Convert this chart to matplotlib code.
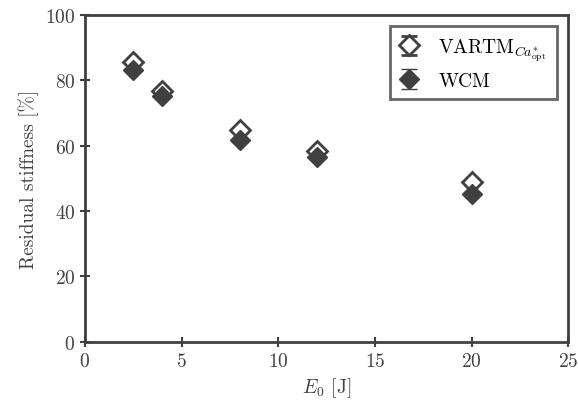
import matplotlib
matplotlib.use("Agg")
import matplotlib.pyplot as plt
import numpy as np

plt.rcParams['font.family'] = 'serif'
plt.rcParams['font.serif'] = ['cmr10']
plt.rcParams['mathtext.fontset'] = 'cm'
plt.rcParams['axes.formatter.use_mathtext'] = True

# impact energies and residual stiffness
energy = [2.5, 4, 8, 12, 20]
vartm = [85.4, 76.6, 64.8, 58.2, 48.9]
vartm_err = [0.6, 0.6, 0.6, 0.6, 0.6]
wcm = [83.2, 75.2, 61.8, 56.4, 45.2]
wcm_err = [0.6, 0.6, 0.6, 0.6, 0.6]

col = "#404040"

fig = plt.figure(figsize=(5.78, 4.14), dpi=100)
ax = fig.add_axes([0.147, 0.172, 0.836, 0.79])

ax.errorbar(energy, vartm, yerr=vartm_err, fmt="D", ms=10, mfc="white", mec=col,
            mew=2, color=col, ecolor=col, capsize=6, elinewidth=1.5, capthick=1.5,
            label=r"VARTM$_{Ca^{*}_{\rm opt}}$")
ax.errorbar(energy, wcm, yerr=wcm_err, fmt="D", ms=10, mfc=col, mec=col,
            mew=1, color=col, ecolor=col, capsize=6, elinewidth=1.5, capthick=1.5,
            label="WCM")

ax.set_xlim(0, 25)
ax.set_ylim(0, 100)
ax.set_xticks([0, 5, 10, 15, 20, 25])
ax.set_yticks([0, 20, 40, 60, 80, 100])
ax.set_xlabel(r"$E_0$ [J]", fontsize=14, color=col)
ax.set_ylabel("Residual stiffness [%]", fontsize=14, color=col)
ax.tick_params(direction="inout", length=7, width=1.5, colors=col, labelsize=14)
for s in ax.spines.values():
    s.set_linewidth(2)
    s.set_color(col)

leg = ax.legend(loc="upper right", fontsize=14, frameon=True, fancybox=False,
                borderaxespad=0.6, handlelength=1.0, handletextpad=1.0,
                labelspacing=0.45, borderpad=0.5, edgecolor=col)
leg.get_frame().set_linewidth(2)

fig.savefig("out.png", dpi=100)
